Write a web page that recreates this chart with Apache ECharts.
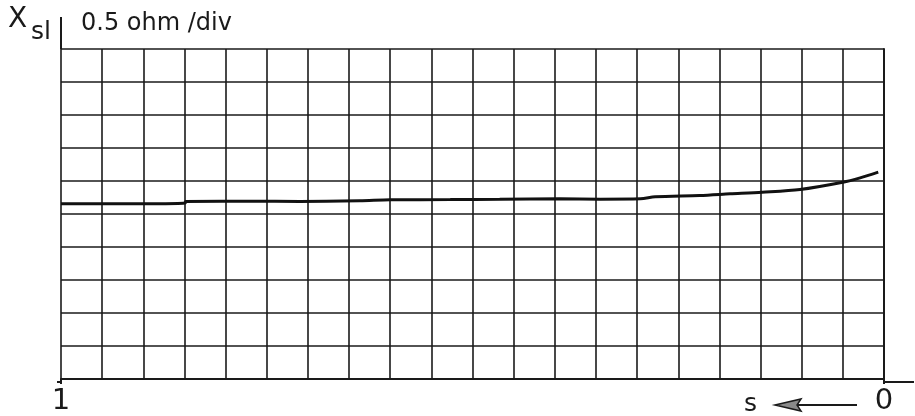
<!DOCTYPE html>
<html>
<head>
<meta charset="utf-8">
<script src="https://cdn.jsdelivr.net/npm/echarts@6/dist/echarts.min.js"></script>
<style>
  html, body { margin: 0; padding: 0; background: #fff; }
  #chart { width: 915px; height: 416px; }
</style>
</head>
<body>
<div id="chart"></div>
<script>
// Slip s (1 at standstill, 0 at synchronous speed)
const slip = [1.000, 0.928, 0.849, 0.849, 0.770, 0.710, 0.637, 0.600, 0.527, 0.467,
              0.394, 0.345, 0.296, 0.278, 0.224, 0.187, 0.148, 0.102, 0.050, 0.029, 0.007];
// Stator leakage reactance X_sl, ohm (0.5 ohm per division)
const xsl  = [2.655, 2.655, 2.665, 2.690, 2.693, 2.690, 2.700, 2.715, 2.718, 2.722,
              2.730, 2.725, 2.730, 2.760, 2.780, 2.805, 2.830, 2.872, 2.982, 3.048, 3.135];
// End labels of the slip axis
const slipEnds = [1, 0];

const ink = '#1a1a1a';
const font = 'DejaVu Sans';

const chart = echarts.init(document.getElementById('chart'), null, { renderer: 'canvas' });

chart.setOption({
  backgroundColor: '#fff',
  animation: false,
  grid: { left: 61, right: 31, top: 49, bottom: 34 },
  xAxis: [
    {
      type: 'value', min: 0, max: 1, interval: 0.05, inverse: true,
      axisLine: { show: true, lineStyle: { color: ink, width: 2 } },
      axisTick: { show: false },
      axisLabel: { show: false },
      splitLine: { show: true, lineStyle: { color: ink, width: 1.6 } }
    },
    {
      type: 'value', min: 0, max: 1, interval: 1, inverse: true, position: 'bottom',
      axisLine: { show: false },
      axisTick: { show: true, length: 5, lineStyle: { color: ink, width: 2 } },
      axisLabel: {
        show: true, color: ink, fontFamily: font, fontSize: 29, margin: 8,
        formatter: v => (slipEnds.indexOf(v) >= 0 ? String(v) : '')
      },
      splitLine: { show: false }
    }
  ],
  yAxis: {
    type: 'value', min: 0, max: 5, interval: 0.5,
    axisLine: { show: true, lineStyle: { color: ink, width: 2 } },
    axisTick: { show: false },
    axisLabel: { show: false },
    splitLine: { show: true, lineStyle: { color: ink, width: 1.6 } }
  },
  series: [{
    type: 'line',
    xAxisIndex: 0,
    data: slip.map((s, i) => [s, xsl[i]]),
    showSymbol: false,
    smooth: 0.3,
    lineStyle: { color: '#111', width: 3 }
  }],
  graphic: [
    // ordinate title X_sl
    { type: 'text', left: 8, top: 6, style: { text: 'X', fontFamily: font, fontSize: 28, fill: ink } },
    { type: 'text', left: 31, top: 20, style: { text: 'sl', fontFamily: font, fontSize: 25, fill: ink } },
    { type: 'text', left: 81, top: 12, style: { text: '0.5 ohm /div', fontFamily: font, fontSize: 24, fill: ink } },
    // y axis continues above the grid
    { type: 'line', shape: { x1: 61, y1: 17, x2: 61, y2: 49 }, style: { stroke: ink, lineWidth: 2 } },
    // x axis continues on both sides of the grid
    { type: 'line', shape: { x1: 57, y1: 382, x2: 61, y2: 382 }, style: { stroke: ink, lineWidth: 2 } },
    { type: 'line', shape: { x1: 884, y1: 382, x2: 914, y2: 382 }, style: { stroke: ink, lineWidth: 2 } },
    // direction of decreasing slip: "s <—"
    { type: 'text', left: 744, top: 392, style: { text: 's', fontFamily: font, fontSize: 25, fill: ink } },
    { type: 'line', shape: { x1: 795, y1: 405, x2: 857, y2: 405 }, style: { stroke: ink, lineWidth: 2 } },
    {
      type: 'polygon',
      shape: { points: [[775, 405], [801, 399], [797, 405], [801, 411]] },
      style: { fill: '#8a8a8a', stroke: ink, lineWidth: 1.5 }
    }
  ]
});
</script>
</body>
</html>
